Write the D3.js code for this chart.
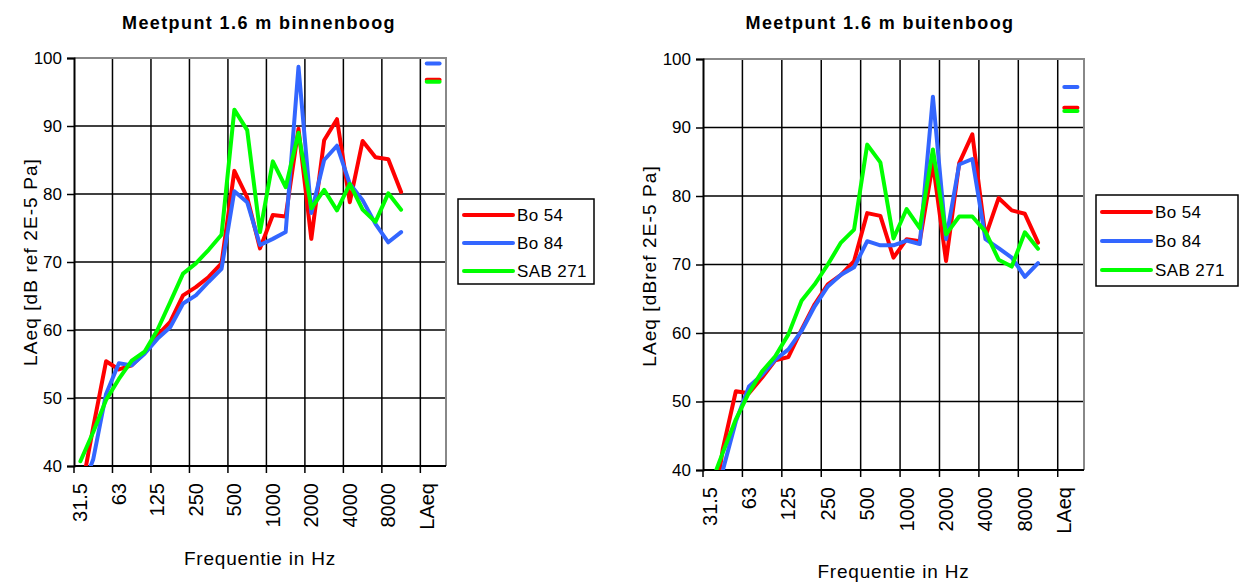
<!DOCTYPE html>
<html>
<head>
<meta charset="utf-8">
<script src="https://cdn.jsdelivr.net/npm/d3@7"></script>
<style>
  body { margin: 0; background: #fff; }
  text { font-family: "Liberation Sans", Arial, sans-serif; fill: #000; }
</style>
</head>
<body>
<div id="chart"></div>
<script>
// 1/3-octave bands, then an empty band, LAeq and one spare slot
var categories = ["31.5","40","50","63","80","100","125","160","200","250","315","400","500",
  "630","800","1000","1250","1600","2000","2500","3150","4000","5000","6300","8000","10000",
  "12500","LAeq",""];
var seriesNames = ["Bo 54", "Bo 84", "SAB 271"];
var seriesColors = ["#ff0000", "#3366ff", "#00ff00"];
var yTicks = [40, 50, 60, 70, 80, 90, 100];

// Meetpunt 1.6 m binnenboog
var binnenBo54  = [35.6, 45.7, 55.4, 54.2, 54.8, 56.6, 59.2, 61.2, 65.1, 66.3, 67.8, 69.8, 83.4, 79.5, 72.0, 76.9, 76.7, 89.6, 73.4, 87.9, 91.0, 78.8, 87.8, 85.4, 85.1, 80.3];
var binnenBo84  = [35.9, 41.0, 50.6, 55.1, 54.8, 56.5, 58.7, 60.4, 63.9, 65.1, 67.1, 69.0, 80.4, 78.8, 72.5, 73.4, 74.4, 98.7, 77.2, 85.0, 87.1, 81.5, 79.1, 75.6, 72.9, 74.4];
var binnenSab   = [40.7, 45.0, 49.7, 52.8, 55.5, 56.8, 60.0, 64.1, 68.3, 69.8, 71.8, 74.0, 92.4, 89.4, 74.4, 84.8, 81.0, 89.0, 77.9, 80.6, 77.6, 81.5, 77.7, 75.9, 80.1, 77.7];
var binnenLAeq  = [96.8, 99.2, 96.5];

// Meetpunt 1.6 m buitenboog
var buitenBo54  = [30.0, 43.0, 51.5, 51.2, 53.5, 56.0, 56.5, 60.5, 64.2, 67.1, 68.5, 70.5, 77.5, 77.1, 71.0, 73.7, 73.4, 84.8, 70.5, 84.8, 89.0, 74.1, 79.7, 77.9, 77.4, 73.2];
var buitenBo84  = [33.0, 39.9, 47.1, 52.2, 53.9, 56.1, 57.6, 60.3, 63.9, 66.8, 68.5, 69.6, 73.4, 72.8, 72.8, 73.5, 73.0, 94.5, 73.7, 84.6, 85.4, 73.7, 72.4, 71.0, 68.2, 70.2];
var buitenSab   = [37.4, 42.5, 47.4, 51.3, 54.4, 56.6, 59.8, 64.7, 67.1, 70.0, 73.2, 75.1, 87.5, 84.9, 73.8, 78.1, 75.3, 86.8, 74.4, 77.0, 77.0, 74.8, 70.7, 69.7, 74.7, 72.3];
var buitenLAeq  = [92.9, 95.9, 92.4];

var svg = d3.select("#chart").append("svg")
    .attr("width", 1244)
    .attr("height", 583);

svg.append("rect").attr("width", 1244).attr("height", 583).attr("fill", "#fff");

drawChart({
  id: "l", left: 74, right: 446, top: 58, bottom: 466,
  title: "Meetpunt 1.6 m binnenboog", titleX: 259, titleY: 29,
  yTitle: "LAeq [dB ref 2E-5 Pa]", yTitleX: 37, yTitleY: 262,
  xTitleY: 565,
  series: [binnenBo54, binnenBo84, binnenSab], laeq: binnenLAeq,
  legend: { x: 458, y: 199, w: 136, h: 85, first: 16, row: 28 }
});

drawChart({
  id: "r", left: 703, right: 1084, top: 59, bottom: 470,
  title: "Meetpunt 1.6 m buitenboog", titleX: 880, titleY: 29,
  yTitle: "LAeq [dBref 2E-5 Pa]", yTitleX: 656, yTitleY: 266,
  xTitleY: 578,
  series: [buitenBo54, buitenBo84, buitenSab], laeq: buitenLAeq,
  legend: { x: 1096, y: 195, w: 142, h: 91, first: 17, row: 29 }
});

function drawChart(c) {
  var x = d3.scaleBand()
      .domain(d3.range(categories.length))
      .range([c.left, c.right])
      .padding(0);

  var y = d3.scaleLinear()
      .domain([40, 100])
      .range([c.bottom, c.top]);

  var g = svg.append("g");

  // title
  g.append("text")
      .attr("x", c.titleX).attr("y", c.titleY)
      .attr("text-anchor", "middle")
      .style("font-weight", "bold")
      .style("font-size", "18px")
      .style("letter-spacing", "1.4px")
      .text(c.title);

  // horizontal gridlines
  g.append("g").selectAll("line")
      .data(yTicks.filter(function(d) { return d > 40 && d < 100; }))
      .enter().append("line")
      .attr("x1", c.left).attr("x2", c.right)
      .attr("y1", function(d) { return y(d); })
      .attr("y2", function(d) { return y(d); })
      .attr("stroke", "#000").attr("stroke-width", 1.5);

  // vertical gridlines every third band
  var groupStarts = d3.range(0, categories.length, 3);
  g.append("g").selectAll("line")
      .data(groupStarts.slice(1))
      .enter().append("line")
      .attr("x1", function(i) { return x(i); })
      .attr("x2", function(i) { return x(i); })
      .attr("y1", c.top).attr("y2", c.bottom)
      .attr("stroke", "#000").attr("stroke-width", 1.5);

  // plot border (top / right grey)
  g.append("path")
      .attr("d", "M" + c.left + "," + c.top + "H" + c.right + "V" + c.bottom)
      .attr("fill", "none").attr("stroke", "#888").attr("stroke-width", 2);

  // y axis
  var yAxis = g.append("g")
      .attr("transform", "translate(" + c.left + ",0)")
      .call(d3.axisLeft(y).tickValues(yTicks).tickSize(7).tickPadding(5));
  yAxis.select(".domain").attr("stroke", "#000").attr("stroke-width", 2);
  yAxis.selectAll(".tick line").attr("stroke", "#000").attr("stroke-width", 1.5);
  yAxis.selectAll(".tick text").style("font-size", "17px").attr("fill", "#000");

  // x axis: ticks between groups of three bands, labels on first band of group
  g.append("line")
      .attr("x1", c.left).attr("x2", c.right)
      .attr("y1", c.bottom).attr("y2", c.bottom)
      .attr("stroke", "#000").attr("stroke-width", 2);
  g.append("g").selectAll("line")
      .data(groupStarts)
      .enter().append("line")
      .attr("x1", function(i) { return x(i); })
      .attr("x2", function(i) { return x(i); })
      .attr("y1", c.bottom).attr("y2", c.bottom + 7)
      .attr("stroke", "#000").attr("stroke-width", 1.5);
  g.append("g").selectAll("text")
      .data(groupStarts)
      .enter().append("text")
      .attr("transform", function(i) {
        return "translate(" + (x(i) + x.bandwidth() / 2 + 7) + "," + (c.bottom + 17) + ") rotate(-90)";
      })
      .attr("text-anchor", "end")
      .style("font-size", "20px")
      .text(function(i) { return categories[i]; });

  // axis titles
  g.append("text")
      .attr("transform", "translate(" + c.yTitleX + "," + c.yTitleY + ") rotate(-90)")
      .attr("text-anchor", "middle")
      .style("font-size", "19px")
      .style("letter-spacing", "1.1px")
      .text(c.yTitle);
  g.append("text")
      .attr("x", (c.left + c.right) / 2).attr("y", c.xTitleY)
      .attr("text-anchor", "middle")
      .style("font-size", "19px")
      .style("letter-spacing", "0.8px")
      .text("Frequentie in Hz");

  // clip
  svg.append("clipPath").attr("id", "clip-" + c.id)
    .append("rect")
      .attr("x", c.left).attr("y", c.top)
      .attr("width", c.right - c.left).attr("height", c.bottom - c.top);

  var line = d3.line()
      .x(function(d, i) { return x(i) + x.bandwidth() / 2; })
      .y(function(d) { return y(d); });

  var plot = g.append("g").attr("clip-path", "url(#clip-" + c.id + ")");

  c.series.forEach(function(s, k) {
    plot.append("path")
        .datum(s)
        .attr("d", line)
        .attr("fill", "none")
        .attr("stroke", seriesColors[k])
        .attr("stroke-width", 4)
        .attr("stroke-linejoin", "round")
        .attr("stroke-linecap", "round");
  });

  // LAeq values: short segment across the LAeq band and the spare one
  var iL = categories.indexOf("LAeq");
  c.laeq.forEach(function(v, k) {
    plot.append("line")
        .attr("x1", x(iL) + x.bandwidth() / 2)
        .attr("x2", x(iL + 1) + x.bandwidth() / 2)
        .attr("y1", y(v)).attr("y2", y(v))
        .attr("stroke", seriesColors[k])
        .attr("stroke-width", 4)
        .attr("stroke-linecap", "round");
  });

  // legend
  var lg = g.append("g").attr("transform", "translate(" + c.legend.x + "," + c.legend.y + ")");
  lg.append("rect")
      .attr("width", c.legend.w).attr("height", c.legend.h)
      .attr("fill", "#fff").attr("stroke", "#000").attr("stroke-width", 1.5);
  seriesNames.forEach(function(name, k) {
    var ry = c.legend.first + k * c.legend.row;
    lg.append("line")
        .attr("x1", 6).attr("x2", 55)
        .attr("y1", ry).attr("y2", ry)
        .attr("stroke", seriesColors[k]).attr("stroke-width", 4)
        .attr("stroke-linecap", "round");
    lg.append("text")
        .attr("x", 59).attr("y", ry + 6)
        .style("font-size", "17px")
        .style("letter-spacing", "0.4px")
        .text(name);
  });
}
</script>
</body>
</html>
